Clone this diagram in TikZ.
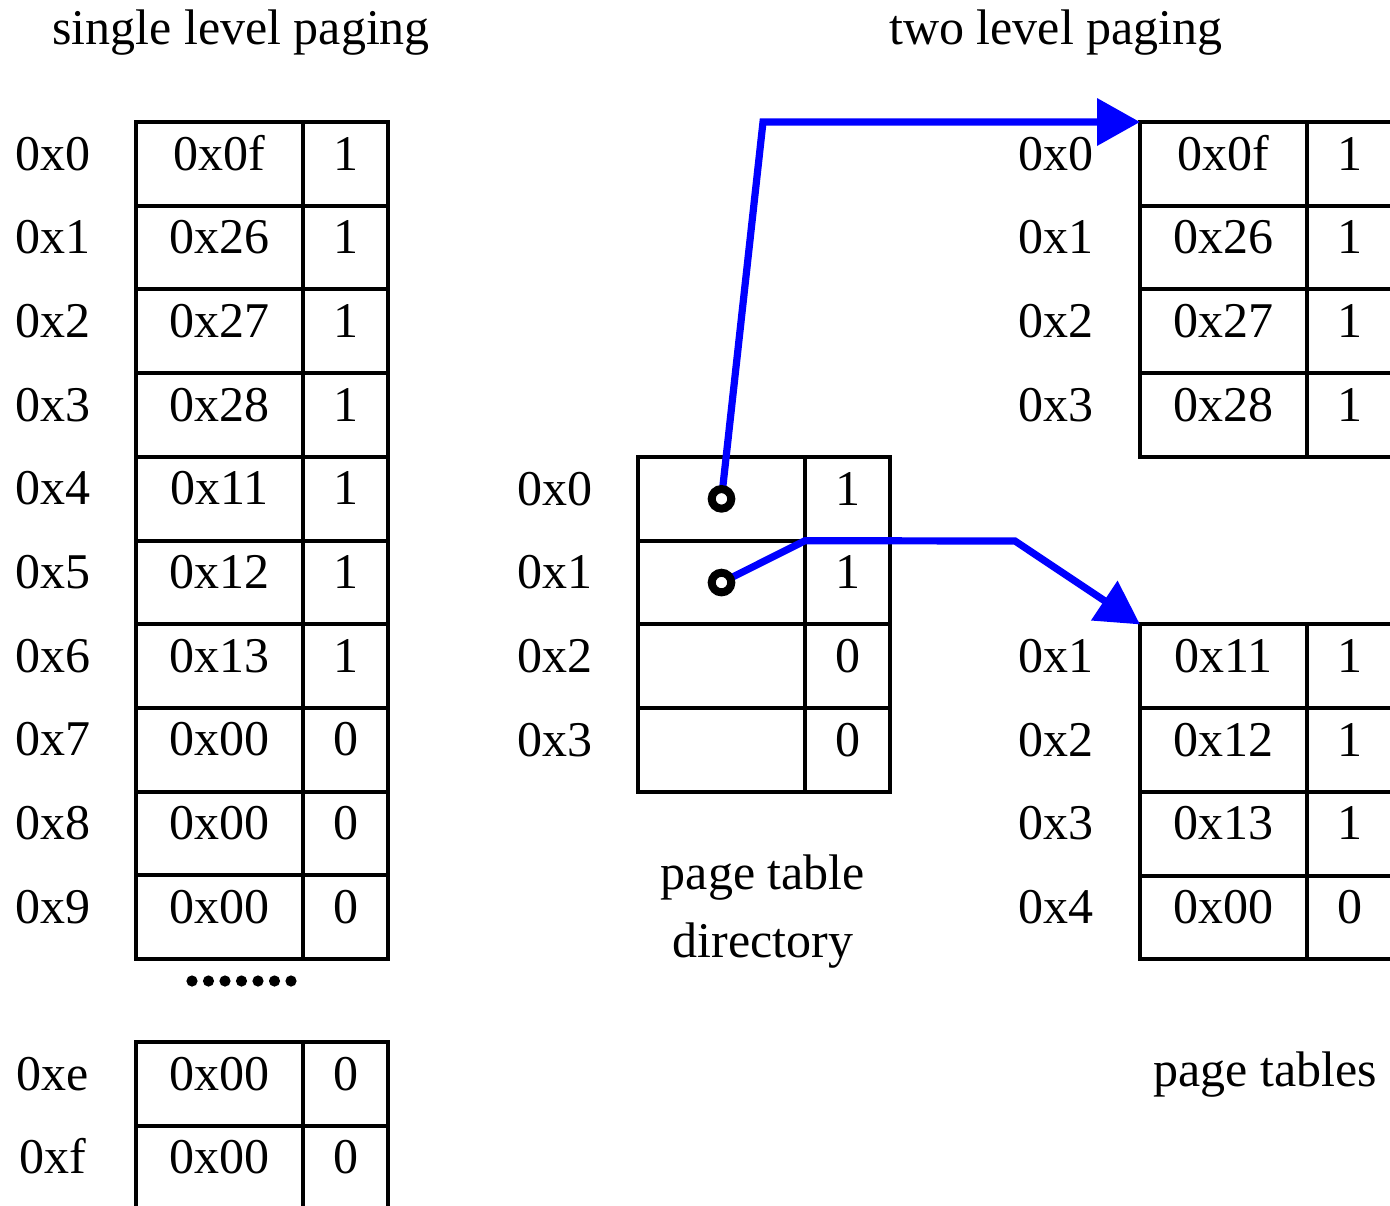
\documentclass[tikz,border=0pt]{standalone}
\usepackage{fontspec}
\setmainfont{Liberation Serif}
\usetikzlibrary{arrows.meta}
\begin{document}
\begin{tikzpicture}[x=0.5pt,y=-0.5pt,
  font=\fontsize{25}{30}\selectfont,
  cellw/.style={draw,line width=2pt,minimum width=83.5pt,minimum height=41.85pt,
    inner sep=0pt,outer sep=0pt,text height=18pt,text depth=11.85pt,anchor=north west},
  celln/.style={cellw,minimum width=42.5pt},
  rowlbl/.style={inner sep=0pt,text height=18pt,text depth=11.85pt,anchor=center},
  caption/.style={inner sep=0pt,anchor=base},
  ptr/.style={draw=blue,line width=3.6pt,line join=miter},
  ptrtip/.style={ptr,-{Triangle[length=21.5pt,width=23pt]}},
  ring/.style={draw=black,fill=white,line width=4pt}
]
\clip (0,0) rectangle (1390,1205);
\useasboundingbox (0,0) rectangle (1390,1205);

% titles
\node[caption] (t1) at (241,44) {single level paging};
\node[caption] (t2) at (1056,44) {two level paging};

% single level table
\foreach \lab/\val/\bit [count=\i from 0] in
  {0x0/0x0f/1,0x1/0x26/1,0x2/0x27/1,0x3/0x28/1,0x4/0x11/1,
   0x5/0x12/1,0x6/0x13/1,0x7/0x00/0,0x8/0x00/0,0x9/0x00/0}{
  \node[cellw] (L\i a) at (136,{122+83.7*\i}) {\val};
  \node[celln] (L\i b) at (303,{122+83.7*\i}) {\bit};
  \node[rowlbl] (L\i l) at (53,{163.85+83.7*\i}) {\lab};
}
\foreach \k in {0,...,6}{
  \fill (192+16.5*\k,981) circle (2.8pt);
}
\foreach \lab/\val/\bit [count=\i from 0] in {0xe/0x00/0,0xf/0x00/0}{
  \node[cellw] (M\i a) at (136,{1042+83.7*\i}) {\val};
  \node[celln] (M\i b) at (303,{1042+83.7*\i}) {\bit};
  \node[rowlbl] (M\i l) at (53,{1083.85+83.7*\i}) {\lab};
}

% page table directory
\foreach \lab/\bit [count=\i from 0] in {0x0/1,0x1/1,0x2/0,0x3/0}{
  \node[cellw] (D\i a) at (638,{457+83.7*\i}) {};
  \node[celln] (D\i b) at (805,{457+83.7*\i}) {\bit};
  \node[rowlbl] (D\i l) at (555,{498.85+83.7*\i}) {\lab};
}
\node[caption] (c1) at (763,889) {page table};
\node[caption] (c2) at (763,957) {directory};

% page tables (top)
\foreach \lab/\val/\bit [count=\i from 0] in {0x0/0x0f/1,0x1/0x26/1,0x2/0x27/1,0x3/0x28/1}{
  \node[cellw] (T\i a) at (1140,{122+83.7*\i}) {\val};
  \node[celln] (T\i b) at (1307,{122+83.7*\i}) {\bit};
  \node[rowlbl] (T\i l) at (1056,{163.85+83.7*\i}) {\lab};
}
% page tables (bottom)
\foreach \lab/\val/\bit [count=\i from 0] in {0x1/0x11/1,0x2/0x12/1,0x3/0x13/1,0x4/0x00/0}{
  \node[cellw] (B\i a) at (1140,{624.4+83.7*\i}) {\val};
  \node[celln] (B\i b) at (1307,{624.4+83.7*\i}) {\bit};
  \node[rowlbl] (B\i l) at (1056,{666.25+83.7*\i}) {\lab};
}
\node[caption] (c3) at (1265,1086) {page tables};

% pointers
\draw[ptrtip] (D0a.center) -- (763,122) -- (T0a.north west);
\draw[ptrtip] (D1a.center) -- (D1a.north east) -- (1015,541) -- (B0a.north west);
\draw[ring] (D0a.center) circle (4.9pt);
\draw[ring] (D1a.center) circle (4.9pt);
\end{tikzpicture}
\end{document}
